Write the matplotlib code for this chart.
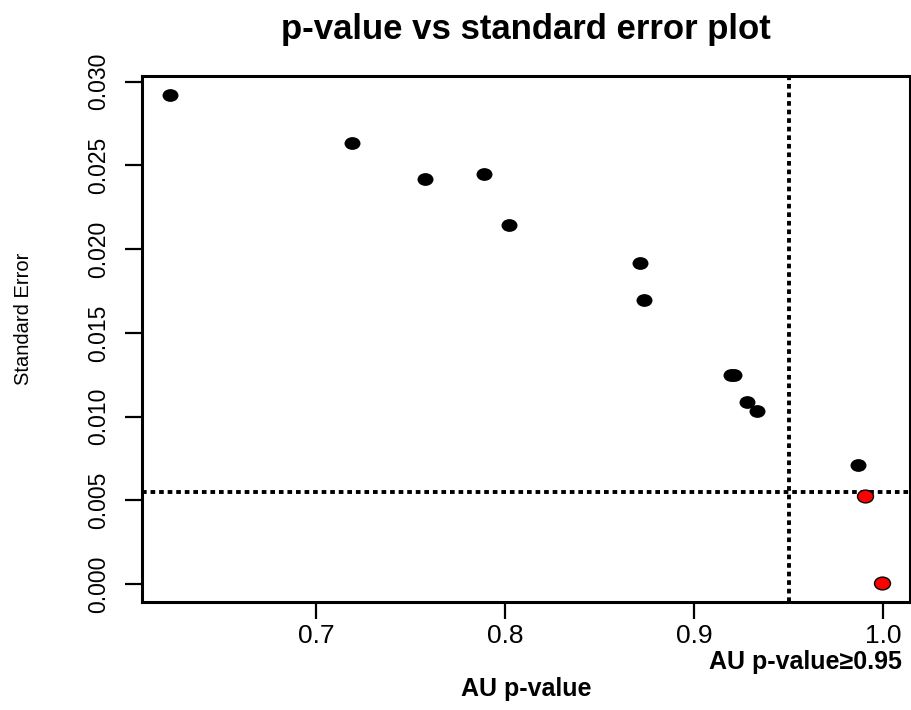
import matplotlib
matplotlib.use("Agg")
import matplotlib.pyplot as plt
from matplotlib.path import Path
from matplotlib.transforms import Affine2D
from matplotlib.ticker import FixedLocator, FormatStrFormatter

# AU p-values and their standard errors
au_pvalue = [0.6227, 0.7186, 0.7577, 0.7887, 0.8019, 0.8715, 0.8732,
             0.9194, 0.9210, 0.9282, 0.9331, 0.9865, 0.9902, 0.9992]
std_error = [0.02917, 0.02633, 0.02417, 0.02449, 0.02143, 0.01917, 0.01694,
             0.01250, 0.01250, 0.01086, 0.01032, 0.00709, 0.00525, 0.00010]

au_cut = 0.95
se_cut = 0.0055

x_ticks = [0.7, 0.8, 0.9, 1.0]
y_ticks = [0.000, 0.005, 0.010, 0.015, 0.020, 0.025, 0.030]

W, H = 912, 710
fig = plt.figure(figsize=(W / 100, H / 100), dpi=100)
ax = fig.add_axes([142 / W, 1 - 602 / H, 768 / W, 526 / H])

# slightly wide elliptical dot
dot = Path.unit_circle().transformed(Affine2D().scale(1.25, 1.0))

sel = [(a >= au_cut and s <= se_cut) for a, s in zip(au_pvalue, std_error)]
for a, s, hit in zip(au_pvalue, std_error, sel):
    ax.plot([a], [s], linestyle="none", marker=dot, markersize=11.5,
            markerfacecolor="#ff0000" if hit else "black",
            markeredgecolor="black", markeredgewidth=1.0 if hit else 0.0,
            zorder=3)

ax.margins(x=0.04, y=0.04)

ax.axvline(au_cut, color="black", linewidth=2.8, linestyle=(0, (1.2, 1.0)),
           dash_capstyle="butt", zorder=2)
ax.axhline(se_cut, color="black", linewidth=2.8, linestyle=(0, (1.2, 1.0)),
           dash_capstyle="butt", zorder=2)

for sp in ax.spines.values():
    sp.set_linewidth(2.2)

ax.xaxis.set_major_locator(FixedLocator(x_ticks))
ax.yaxis.set_major_locator(FixedLocator(y_ticks))
ax.xaxis.set_major_formatter(FormatStrFormatter("%.1f"))
ax.yaxis.set_major_formatter(FormatStrFormatter("%.3f"))
ax.tick_params(axis="both", length=12, width=1.6, direction="out")
ax.tick_params(axis="x", pad=4, labelsize=19)
ax.tick_params(axis="y", pad=11, labelsize=16.5)
for lab in ax.get_xticklabels():
    lab.set_fontfamily("Liberation Sans")
for lab in ax.get_yticklabels():
    lab.set_fontfamily("Liberation Sans")
    lab.set_rotation(90)
    lab.set_verticalalignment("center")

fig.text(526 / W, 1 - 29 / H, "p-value vs standard error plot",
         ha="center", va="center", fontsize=25, fontweight="bold",
         family="Liberation Sans")
fig.text(526 / W, 1 - 689 / H, "AU p-value", ha="center", va="center",
         fontsize=18, fontweight="bold", family="Liberation Sans")
fig.text(902 / W, 1 - 662 / H, "AU p-value\u22650.95", ha="right", va="center",
         fontsize=18, fontweight="bold", family="Liberation Sans")
fig.text(24 / W, 1 - 319 / H, "Standard Error", ha="center", va="center",
         rotation=90, fontsize=14.5, family="Liberation Sans")

fig.savefig("out.png", dpi=100)
